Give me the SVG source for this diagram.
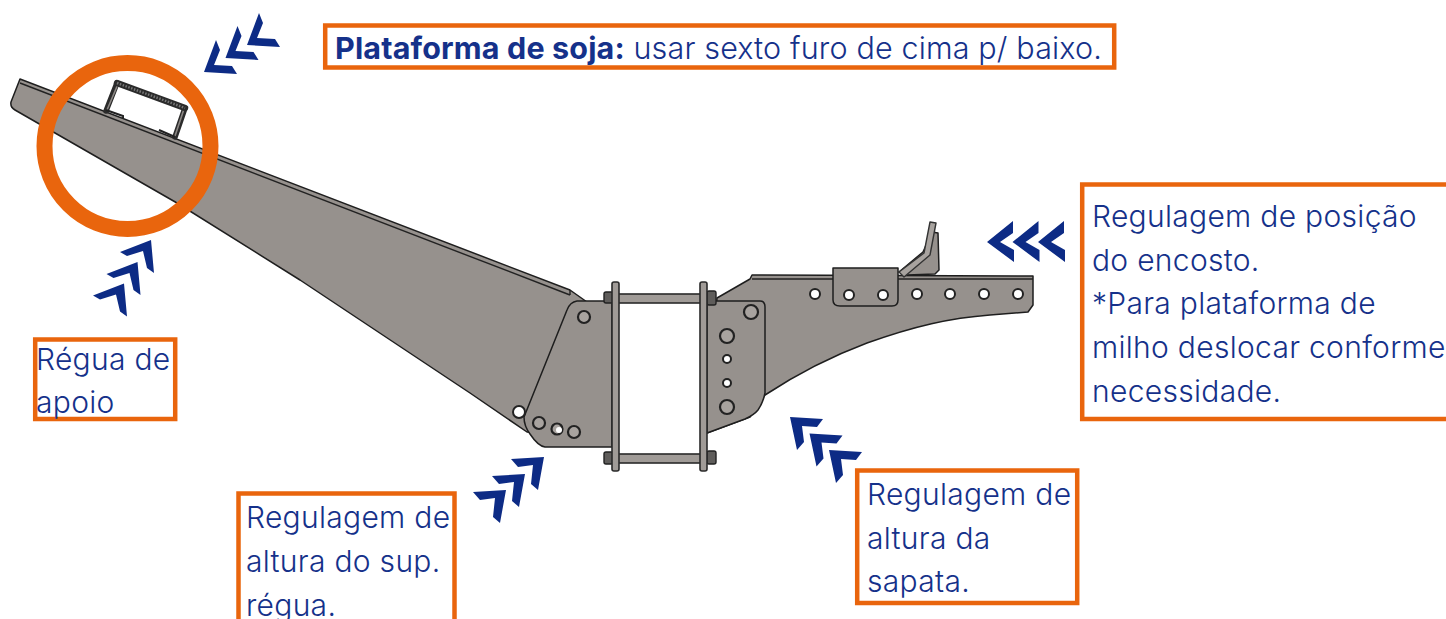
<svg xmlns="http://www.w3.org/2000/svg" width="1446" height="619" viewBox="0 0 1446 619">
<style>
.steel{fill:#96918d;stroke:#1e1e1e;stroke-width:1.5;stroke-linejoin:round}
.rod{fill:#a09b97;stroke:#2a2a2a;stroke-width:1.6}
.nut{fill:#5f5d5b;stroke:#222;stroke-width:1.4}
.bolt{fill:#a8a39f;stroke:#222;stroke-width:2.200}
.hole{fill:#fff;stroke:#222;stroke-width:2}
.box{fill:#fff;stroke:#e9650d;stroke-width:4.5}
.chev{fill:#0d2b85}
text{font-family:"Inter","Liberation Sans",Arial,sans-serif;font-size:30px;font-weight:350;letter-spacing:.3px;fill:#15318a}
.t{font-size:30.500px;letter-spacing:.15px}
.b{font-weight:700}
</style>
<defs>
<polygon id="c1" class="chev" points="204,72 216,40 220,50 214,65 232,66 237,74"/>
<polygon id="c2" class="chev" points="151,240 120,252 127,256 143,251 147,268 154,273"/>
<polygon id="c3" class="chev" points="544,457 511,459 518,467 533,465 531,484 538,490"/>
<polygon id="c4" class="chev" points="790,417 823,419 817,427 802,426 804,442 797,450"/>
<polygon id="c5" class="chev" points="987,242 1013,221 1013,233 1000,242 1014,250 1014,262"/>
</defs>
<rect width="1446" height="619" fill="#fff"/>

<g id="ruler-arm">
<path class="steel" d="M20,79 L570,290 L587,302 L600,440 L527,432 L470,393 L300,280 L177,203 L15,110 Q10,107 11,102 Z"/>
<path d="M20,83 L570,295" fill="none" stroke="#222" stroke-width="1.4"/>
<path d="M570,290 V295" stroke="#222" stroke-width="1.4"/>
</g>

<g id="handle">
<path d="M106,111 L117,83 M185,108 L175,137" fill="none" stroke="#2b2b2b" stroke-width="5.500" stroke-linecap="round"/>
<path d="M107,110 L118,84 M184,109 L175,136" fill="none" stroke="#8a8683" stroke-width="1.600"/>
<path d="M117,83 L185,108" fill="none" stroke="#2b2b2b" stroke-width="6.500" stroke-linecap="round"/>
<path d="M117,83 L185,108" fill="none" stroke="#777" stroke-width="2.500" stroke-dasharray="1.500 1.500"/>
<path d="M106,110 L123,116 V119 M159,130 L175,137" fill="none" stroke="#222" stroke-width="2"/>
</g>

<g id="right-arm">
<path class="steel" d="M717,298 L750,279 L752,275 L1033,276 V305 L1028,312 L990,315 C950,318 915,326 867,343 C835,355 800,372 765,395 L750,417 L707,433 Z"/>
<path d="M752,279 H1033" stroke="#222" stroke-width="1.4"/>
<circle class="hole" cx="815" cy="294" r="5"/>
<circle class="hole" cx="917" cy="294" r="5"/>
<circle class="hole" cx="950" cy="294" r="5"/>
<circle class="hole" cx="984" cy="294" r="5"/>
<circle class="hole" cx="1018" cy="294" r="5"/>
</g>

<g id="backrest">
<path class="steel" d="M899,272 L923,252 L932,232 L938,233 L939,270 L935,274 L907,275 Z"/>
<path d="M899,272 L924,253 L930,222 L936,223 L930,255 L904,277 Z" fill="#a8a39f" stroke="#333" stroke-width="1.400" stroke-linejoin="round"/>
<path class="steel" d="M833,268 H898 V300 Q898,306 892,306 H840 Q833,306 833,300 Z"/>
<circle class="hole" cx="849" cy="295" r="5"/>
<circle class="hole" cx="883" cy="295" r="5"/>
</g>

<g id="center-left-plate">
<path class="steel" d="M577,301 H612 V447 H545 Q538,446 530,434 Q524,426 524,417 L567,310 Q570,302 577,301 Z"/>
<circle class="bolt" cx="584" cy="317" r="6"/>
<circle class="hole" cx="519" cy="412" r="6"/>
<circle class="bolt" cx="539" cy="423" r="6"/>
<circle class="bolt" cx="557" cy="429" r="5.500"/>
<circle cx="559" cy="430" r="3" fill="#fff"/>
<circle class="bolt" cx="574" cy="432" r="6"/>
</g>

<g id="center-right-plate">
<path class="steel" d="M707,301 H760 Q765,301 765,307 V393 Q763,403 758,410 Q754,415 745,419 L707,433 Z"/>
<circle class="bolt" cx="751" cy="312" r="7"/>
<circle class="bolt" cx="727" cy="336" r="7"/>
<circle class="hole" cx="727" cy="359" r="4"/>
<circle class="hole" cx="727" cy="383" r="4"/>
<circle class="bolt" cx="727" cy="407" r="7"/>
</g>

<g id="u-bolts">
<rect class="rod" x="618" y="294" width="83" height="9"/>
<rect class="rod" x="618" y="454" width="83" height="9"/>
<rect class="nut" x="604" y="292" width="9" height="11" rx="2"/>
<rect class="nut" x="707" y="291" width="9" height="14" rx="2"/>
<rect class="nut" x="604" y="452" width="9" height="12" rx="2"/>
<rect class="nut" x="707" y="451" width="9" height="13" rx="2"/>
<rect class="rod" x="612" y="282" width="7" height="189" rx="2"/>
<rect class="rod" x="700" y="282" width="7" height="189" rx="2"/>
</g>

<circle id="highlight" cx="127.500" cy="146" r="83" fill="none" stroke="#e9650d" stroke-width="16"/>

<g id="connectors">
<g><use href="#c1"/><use href="#c1" x="21.500" y="-14"/><use href="#c1" x="43" y="-27"/></g>
<g><use href="#c2"/><use href="#c2" x="-13.500" y="22"/><use href="#c2" x="-27" y="43.500"/></g>
<g><use href="#c3"/><use href="#c3" x="-19" y="17"/><use href="#c3" x="-38" y="33"/></g>
<g><use href="#c4"/><use href="#c4" x="19.500" y="16.500"/><use href="#c4" x="39" y="33"/></g>
<g><use href="#c5"/><use href="#c5" x="25.500"/><use href="#c5" x="51"/></g>
</g>

<g id="label-soja">
<rect class="box" x="325.200" y="25.500" width="789" height="42"/>
<text x="335" y="59" class="t"><tspan class="b">Plataforma de soja:</tspan> usar sexto furo de cima p/ baixo.</text>
</g>
<g id="label-encosto">
<rect class="box" x="1082.200" y="184.500" width="380" height="234.500"/>
<text x="1092" y="226.500">Regulagem de posição</text>
<text x="1092" y="270.500">do encosto.</text>
<text x="1092" y="314">*Para plataforma de</text>
<text x="1092" y="358">milho deslocar conforme</text>
<text x="1092" y="402">necessidade.</text>
</g>
<g id="label-regua">
<rect class="box" x="35.200" y="339.500" width="140" height="79.500"/>
<text x="36" y="369.500">Régua de</text>
<text x="36" y="413">apoio</text>
</g>
<g id="label-suporte">
<rect class="box" x="238.500" y="493.500" width="216" height="140"/>
<text x="246" y="527.500">Regulagem de</text>
<text x="246" y="571.500">altura do sup.</text>
<text x="246" y="615.500">régua.</text>
</g>
<g id="label-sapata">
<rect class="box" x="857.200" y="470.500" width="220" height="132.500"/>
<text x="867" y="505">Regulagem de</text>
<text x="867" y="548.500">altura da</text>
<text x="867" y="592">sapata.</text>
</g>
</svg>
